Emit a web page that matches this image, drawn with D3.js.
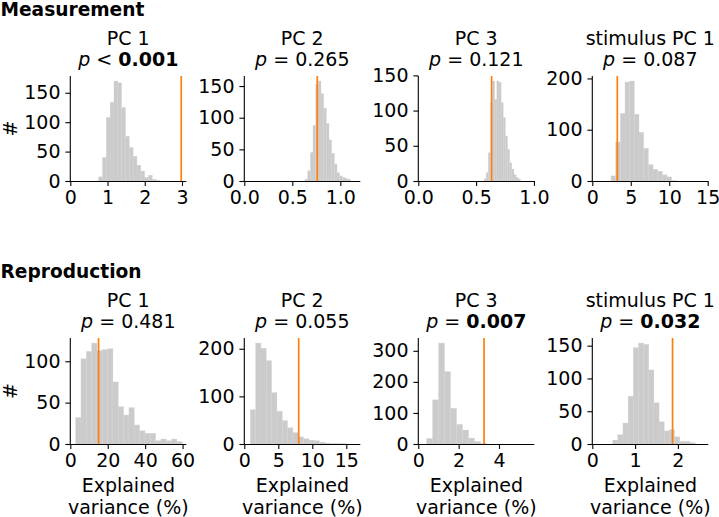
<!DOCTYPE html>
<html>
<head>
<meta charset="utf-8">
<script src="https://cdn.jsdelivr.net/npm/d3@7"></script>
<style>
  html, body { margin: 0; padding: 0; background: #fff; }
  svg { display: block; font-family: "DejaVu Sans", sans-serif; }
</style>
</head>
<body>
<svg id="chart" width="719" height="517"></svg>
<script>
// ---------------- DATA ----------------
const panelTitles = ["PC 1", "PC 2", "PC 3", "stimulus PC 1"];
const sectionTitles = ["Measurement", "Reproduction"];

// Measurement row
const measBinStart = [0.761, 0.632, 0.568, 2.43];
const measBinWidth = [0.103, 0.0278, 0.0185, 0.607];
const measCounts = [
  [7, 40, 108, 134, 170, 167, 125, 76, 57, 42, 27, 17, 6, 10, 3, 1],
  [3, 16, 45, 88, 153, 158, 138, 115, 91, 65, 44, 27, 13, 8, 6, 4, 3],
  [3, 12, 40, 111, 142, 116, 142, 140, 111, 90, 64, 45, 26, 17, 9, 5, 3],
  [10, 76, 132, 193, 195, 130, 95, 64, 32, 23, 19, 12, 8, 1]
];
const measObserved = [2.98, 0.76, 0.634, 3.25];
const measXMax = [3.116, 1.208, 1.003, 15.08];
const measXTicks = [[0, 1, 2, 3], [0, 0.5, 1], [0, 0.5, 1], [0, 5, 10, 15]];
const measXFormat = ["d", ".1f", ".1f", "d"];
const measYTicks = [[0, 50, 100, 150], [0, 50, 100, 150], [0, 50, 100, 150], [0, 100, 200]];
const measPOp = ["<", "=", "=", "="];
const measPValue = ["0.001", "0.265", "0.121", "0.087"];
const measPBold = [true, false, false, false];

// Reproduction row
const reprBinStart = [2.85, 0.88, 0.41, 0.475];
const reprBinWidth = [2.85, 0.784, 0.2975, 0.1206];
const reprCounts = [
  [32, 103, 112, 122, 113, 114, 115, 75, 45, 35, 44, 23, 16, 13, 13, 4, 6, 4, 6, 3],
  [72, 212, 201, 175, 108, 69, 49, 34, 24, 15, 11, 8, 7, 4, 2, 1, 1, 1],
  [18, 142, 325, 233, 115, 63, 45, 19, 8, 2],
  [6, 14, 32, 73, 147, 154, 152, 113, 63, 34, 20, 22, 11, 4, 4, 2]
];
const reprObserved = [15.1, 8.0, 3.26, 1.875];
const reprXMax = [62.0, 17.06, 5.75, 2.71];
const reprXTicks = [[0, 20, 40, 60], [0, 5, 10, 15], [0, 2, 4], [0, 1, 2]];
const reprXFormat = ["d", "d", "d", "d"];
const reprYTicks = [[0, 50, 100], [0, 100, 200], [0, 100, 200, 300], [0, 50, 100, 150]];
const reprPOp = ["=", "=", "=", "="];
const reprPValue = ["0.481", "0.055", "0.007", "0.032"];
const reprPBold = [false, false, true, true];

const xLabelLines = ["Explained", "variance (%)"];
const yLabel = "#";

// ---------------- LAYOUT ----------------
const svg = d3.select("#chart");
const FS = 19;
const panelLeft = [70.3, 244.3, 418.3, 592.3];
const panelW = 116;
const rows = [
  { top: 76, bottom: 181, headerY: 16, binStart: measBinStart, binWidth: measBinWidth, counts: measCounts,
    observed: measObserved, xMax: measXMax, xTicks: measXTicks, xFmt: measXFormat, yTicks: measYTicks,
    pOp: measPOp, pVal: measPValue, pBold: measPBold, xLabel: false },
  { top: 338, bottom: 444, headerY: 277.5, binStart: reprBinStart, binWidth: reprBinWidth, counts: reprCounts,
    observed: reprObserved, xMax: reprXMax, xTicks: reprXTicks, xFmt: reprXFormat, yTicks: reprYTicks,
    pOp: reprPOp, pVal: reprPValue, pBold: reprPBold, xLabel: true }
];

rows.forEach((row, ri) => {
  svg.append("text")
    .attr("x", 0.5).attr("y", row.headerY)
    .attr("font-size", 18.6).attr("font-weight", "bold")
    .attr("fill", "#000")
    .text(sectionTitles[ri]);

  for (let i = 0; i < 4; i++) {
    const g = svg.append("g");
    const x = d3.scaleLinear().domain([0, row.xMax[i]]).range([panelLeft[i], panelLeft[i] + panelW]);
    const counts = row.counts[i];
    const ymax = d3.max(counts) * 1.05;
    const y = d3.scaleLinear().domain([0, ymax]).range([row.bottom, row.top]);

    const bins = counts.map((c, k) => ({
      x0: row.binStart[i] + k * row.binWidth[i],
      x1: row.binStart[i] + (k + 1) * row.binWidth[i],
      c: c
    }));

    g.selectAll("rect.bar").data(bins).join("rect")
      .attr("class", "bar")
      .attr("x", d => x(d.x0))
      .attr("width", d => Math.max(0, x(d.x1) - x(d.x0)))
      .attr("y", d => y(d.c))
      .attr("height", d => y(0) - y(d.c))
      .attr("fill", "#cbcbcb")
      .attr("stroke", "#d4d4d4")
      .attr("stroke-width", 0.3);

    // observed line
    g.append("line")
      .attr("x1", x(row.observed[i])).attr("x2", x(row.observed[i]))
      .attr("y1", row.top).attr("y2", row.bottom)
      .attr("stroke", "#ff7f0e").attr("stroke-width", 1.7);

    // axes
    const fmt = d3.format(row.xFmt[i]);
    const xAxis = d3.axisBottom(x).tickValues(row.xTicks[i]).tickFormat(fmt)
      .tickSize(4.9).tickPadding(4.9).tickSizeOuter(0);
    const xg = g.append("g").attr("transform", `translate(0,${row.bottom})`).call(xAxis);
    const yAxis = d3.axisLeft(y).tickValues(row.yTicks[i]).tickFormat(d3.format("d"))
      .tickSize(4.9).tickPadding(4.9).tickSizeOuter(0);
    const yg = g.append("g").attr("transform", `translate(${panelLeft[i]},0)`).call(yAxis);
    [xg, yg].forEach(ax => {
      ax.select(".domain").attr("stroke", "#000").attr("stroke-width", 1.1);
      ax.selectAll(".tick line").attr("stroke", "#000").attr("stroke-width", 1.1);
      ax.selectAll(".tick text").attr("font-size", FS).attr("font-family", "DejaVu Sans").attr("fill", "#000");
    });
    xg.select(".domain").attr("d", `M${panelLeft[i]},0.5H${panelLeft[i] + panelW}`);
    yg.select(".domain").attr("d", `M0.5,${row.bottom}V${row.top}`).attr("transform", "translate(-0.5,0)");

    // titles
    const cx = panelLeft[i] + panelW / 2;
    svg.append("text")
      .attr("x", cx).attr("y", row.top - 31)
      .attr("text-anchor", "middle").attr("font-size", FS).attr("fill", "#000")
      .text(panelTitles[i]);
    const pt = svg.append("text")
      .attr("x", cx).attr("y", row.top - 10)
      .attr("text-anchor", "middle").attr("font-size", FS).attr("fill", "#000");
    pt.append("tspan").attr("font-style", "italic").text("p");
    pt.append("tspan").text(" " + row.pOp[i] + " ");
    pt.append("tspan").attr("font-weight", row.pBold[i] ? "bold" : "normal").text(row.pVal[i]);

    // y label
    if (i === 0) {
      svg.append("text")
        .attr("transform", `translate(16.5,${(row.top + row.bottom) / 2}) rotate(-90)`)
        .attr("text-anchor", "middle").attr("font-size", FS).attr("fill", "#000")
        .text(yLabel);
    }
    // x label
    if (row.xLabel) {
      const xl = svg.append("text").attr("text-anchor", "middle").attr("font-size", FS).attr("fill", "#000");
      xLabelLines.forEach((ln, k) => {
        xl.append("tspan").attr("x", cx).attr("y", 492 + k * 21.5).text(ln);
      });
    }
  }
});
</script>
</body>
</html>
